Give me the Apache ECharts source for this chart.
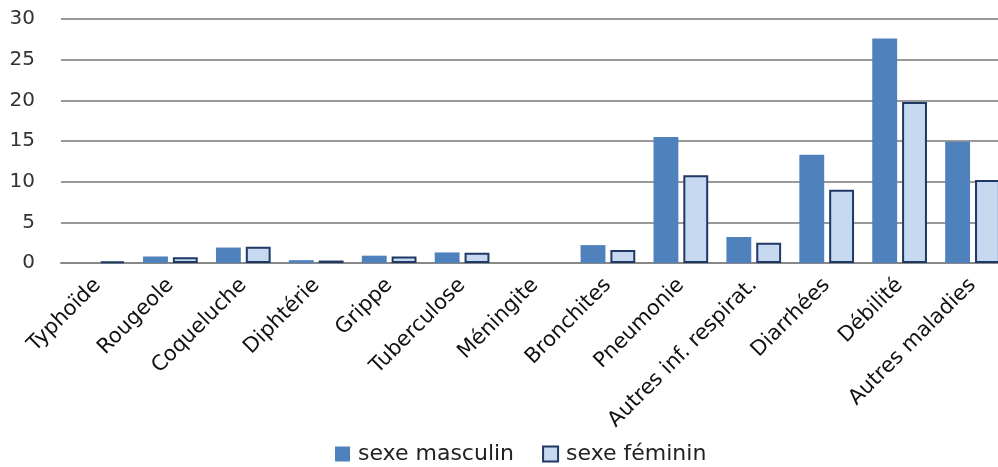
<!DOCTYPE html>
<html><head><meta charset="utf-8">
<script src="https://cdn.jsdelivr.net/npm/echarts@6/dist/echarts.min.js"></script>
<style>html,body{margin:0;padding:0;background:#fff}#c{width:998px;height:467px}</style>
</head><body><div id="c"></div>
<script>
const categories = ["Typhoïde","Rougeole","Coqueluche","Diphtérie","Grippe","Tuberculose","Méningite","Bronchites","Pneumonie","Autres inf. respirat.","Diarrhées","Débilité","Autres maladies"];
const masculin = [0, 0.8, 1.9, 0.35, 0.9, 1.3, null, 2.2, 15.5, 3.2, 13.3, 27.6, 14.9];
const feminin  = [0.2, 0.7, 2.0, 0.3, 0.8, 1.25, null, 1.6, 10.8, 2.5, 9.0, 19.8, 10.2];
const seriesNames = ["sexe masculin", "sexe féminin"];
const yTicks = {min: 0, max: 30, interval: 5};

const font = "'DejaVu Sans', sans-serif";
const chart = echarts.init(document.getElementById('c'));
chart.setOption({
  animation: false,
  backgroundColor: '#fff',
  grid: {left: 61, width: 948, top: 19, height: 244, containLabel: false, outerBoundsMode: 'none'},
  legend: {
    top: 438, left: 330, itemWidth: 15, itemHeight: 15, itemGap: 28, icon: 'rect',
    textStyle: {fontFamily: font, fontSize: 22, color: '#222', padding: [0, 0, 0, 3]},
    data: seriesNames
  },
  xAxis: {
    type: 'category', data: categories,
    axisLine: {lineStyle: {color: '#888', width: 2}},
    axisTick: {show: false},
    axisLabel: {rotate: 45, interval: 0, margin: 19, fontFamily: font, fontSize: 21, color: '#111'}
  },
  yAxis: {
    type: 'value', min: yTicks.min, max: yTicks.max, interval: yTicks.interval,
    axisLine: {show: false}, axisTick: {show: false},
    splitLine: {lineStyle: {color: '#999', width: 2}},
    axisLabel: {margin: 26, fontFamily: font, fontSize: 20, color: '#333'}
  },
  series: [
    {name: seriesNames[0], type: 'bar', data: masculin, barGap: '20%', barCategoryGap: '25%',
     itemStyle: {color: '#4F81BD'}},
    {name: seriesNames[1], type: 'bar', data: feminin,
     itemStyle: {color: '#C6D9F1', borderColor: '#1F3864', borderWidth: 2}}
  ]
});
</script></body></html>
